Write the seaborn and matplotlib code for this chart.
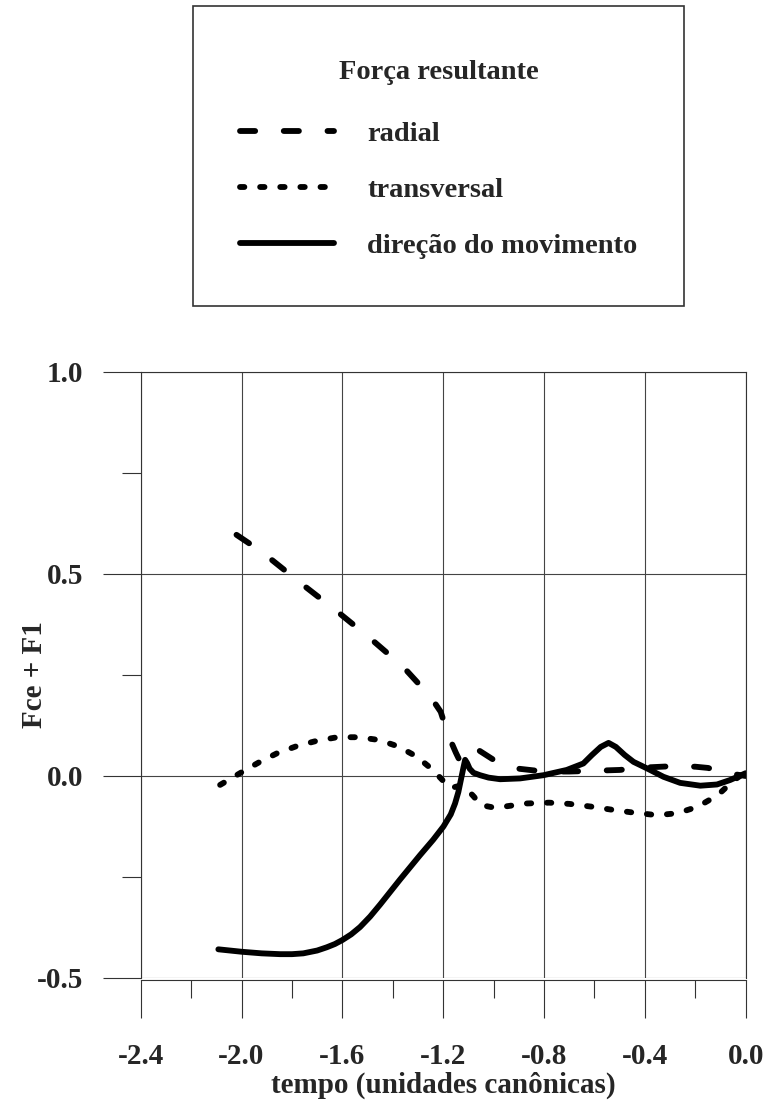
import numpy as np
import pandas as pd
import matplotlib
matplotlib.use("Agg")
import matplotlib.pyplot as plt
from matplotlib.ticker import FixedLocator
from matplotlib.offsetbox import VPacker, DrawingArea
import seaborn as sns

# ---------------- data ----------------
radial_t = [-2.02, -1.97, -1.88, -1.75, -1.62, -1.49, -1.36, -1.25, -1.21, -1.18,
            -1.15, -1.13, -1.11, -1.06, -1.00, -0.90, -0.80, -0.70, -0.60, -0.50,
            -0.40, -0.30, -0.20, -0.15, -0.10, -0.05, 0.00]
radial_f = [0.597, 0.576, 0.535, 0.470, 0.407, 0.341, 0.271, 0.196, 0.159, 0.101,
            0.058, 0.032, 0.040, 0.064, 0.040, 0.018, 0.011, 0.011, 0.013, 0.015,
            0.021, 0.024, 0.023, 0.020, 0.012, 0.005, 0.000]

trans_t = [-2.085, -2.006, -1.933, -1.860, -1.781, -1.702, -1.620, -1.536, -1.453,
           -1.378, -1.305, -1.241, -1.200, -1.170, -1.140, -1.110, -1.080, -1.050,
           -1.000, -0.960, -0.870, -0.780, -0.700, -0.610, -0.525, -0.440, -0.350,
           -0.270, -0.190, -0.110, -0.050, 0.000]
trans_f = [-0.022, 0.007, 0.033, 0.056, 0.074, 0.087, 0.096, 0.096, 0.089,
           0.073, 0.048, 0.015, -0.012, -0.030, -0.025, -0.030, -0.050, -0.072,
           -0.078, -0.076, -0.068, -0.066, -0.069, -0.076, -0.084, -0.091, -0.097,
           -0.092, -0.076, -0.047, -0.012, 0.010]

dir_t = [-2.092, -2.000, -1.920, -1.847, -1.800, -1.755, -1.700, -1.662, -1.630,
         -1.600, -1.565, -1.530, -1.490, -1.450, -1.371, -1.292, -1.240, -1.199,
         -1.170, -1.153, -1.140, -1.130, -1.120, -1.113, -1.105, -1.095, -1.080,
         -1.054, -1.020, -0.974, -0.895, -0.802, -0.710, -0.644, -0.610, -0.575,
         -0.544, -0.515, -0.480, -0.445, -0.392, -0.326, -0.260, -0.180, -0.114,
         -0.062, 0.000]
dir_f = [-0.429, -0.435, -0.439, -0.441, -0.441, -0.439, -0.432, -0.424, -0.416,
         -0.406, -0.392, -0.374, -0.348, -0.318, -0.256, -0.196, -0.158, -0.125,
         -0.095, -0.068, -0.040, -0.010, 0.020, 0.040, 0.032, 0.018, 0.008,
         0.002, -0.004, -0.008, -0.006, 0.002, 0.015, 0.031, 0.052, 0.072,
         0.082, 0.072, 0.052, 0.035, 0.019, -0.002, -0.017, -0.024, -0.021,
         -0.010, 0.007]

series_labels = ["radial", "transversal", "direção do movimento"]
legend_title = "Força resultante"
x_ticks = [-2.4, -2.0, -1.6, -1.2, -0.8, -0.4, 0.0]
x_minor = [-2.2, -1.8, -1.4, -1.0, -0.6, -0.2]
y_ticks = [-0.5, 0.0, 0.5, 1.0]
y_minor = [-0.25, 0.25, 0.75]
x_label = "tempo (unidades canônicas)"
y_label = "Fce + F1"

# ---------------- style ----------------
sns.set_style("white")
plt.rcParams["font.family"] = ["Liberation Serif", "DejaVu Serif"]
plt.rcParams["font.weight"] = "bold"
plt.rcParams["axes.labelweight"] = "bold"
plt.rcParams["font.size"] = 21

fig = plt.figure(figsize=(7.67, 11.04), dpi=100)
ax = fig.add_axes([140.7 / 767, 1 - 978 / 1104, 605 / 767, 606 / 1104])

LW = 4.2
styles = [(0, (2.6, 4.9)), (0, (0.75, 2.7)), "-"]
frames = [
    pd.DataFrame({"t": radial_t, "f": radial_f}),
    pd.DataFrame({"t": trans_t, "f": trans_f}),
    pd.DataFrame({"t": dir_t, "f": dir_f}),
]
for df, ls, lab in zip(frames, styles, series_labels):
    sns.lineplot(data=df, x="t", y="f", ax=ax, color="black", linewidth=LW,
                 linestyle=ls, label=lab, sort=False,
                 dash_capstyle="round", solid_capstyle="round",
                 solid_joinstyle="round", dash_joinstyle="round")

if ax.get_legend() is not None:
    ax.get_legend().remove()

ax.set_xlim(-2.4, 0.0)
ax.set_ylim(-0.5, 1.0)
ax.xaxis.set_major_locator(FixedLocator(x_ticks))
ax.xaxis.set_minor_locator(FixedLocator(x_minor))
ax.yaxis.set_major_locator(FixedLocator(y_ticks))
ax.yaxis.set_minor_locator(FixedLocator(y_minor))
ax.set_xticklabels([f"{v:.1f}" for v in x_ticks])
ax.set_yticklabels([f"{v:.1f}" for v in y_ticks])

ax.grid(True, which="major", color="#444444", linewidth=0.8)
ax.set_axisbelow(True)
for s in ["left", "top", "right", "bottom"]:
    ax.spines[s].set_visible(True)
    ax.spines[s].set_color("#333333")
    ax.spines[s].set_linewidth(0.8)
ax.spines["bottom"].set_position(("outward", 1.7))

ax.tick_params(axis="both", which="both", direction="out", color="#333333", width=0.8,
               labelsize=21)
ax.tick_params(axis="x", which="major", length=27.4, pad=18, bottom=True)
ax.tick_params(axis="x", which="minor", length=13, bottom=True)
ax.tick_params(axis="y", which="major", length=27.4, pad=14, left=True)
ax.tick_params(axis="y", which="minor", length=13.7, left=True)

ax.set_xlabel(x_label, fontsize=21, fontweight="bold")
ax.set_ylabel(y_label, fontsize=21, fontweight="bold")
ax.xaxis.set_label_coords(0.5, -0.154)
ax.yaxis.set_label_coords(-0.154, 0.5)

handles, labels = ax.get_legend_handles_labels()
FS = 20.5
fs_px = FS * 100 / 72
leg = fig.legend(handles, labels, title=legend_title, loc="upper left",
                 bbox_to_anchor=(193 / 767, 1 - 6 / 1104), borderaxespad=0,
                 frameon=True, fancybox=False, shadow=False, framealpha=1,
                 edgecolor="#333333", fontsize=FS, title_fontsize=FS,
                 handlelength=94 / fs_px, handletextpad=33 / fs_px,
                 labelspacing=30.3 / fs_px, borderpad=47 / fs_px)
leg.get_frame().set_linewidth(1.2)
leg.get_title().set_fontweight("bold")
for t in leg.get_texts():
    t.set_fontweight("bold")

# extra space above the title and between title and entries
lb = leg._legend_box
title_box = lb._children[0]
wrapper = VPacker(pad=0, sep=0, align="center",
                  children=[DrawingArea(1, 7 * 0.72), title_box])
wrapper.set_figure(fig)
lb._children[0] = wrapper
lb.sep = 36 * 0.72

fig.savefig("out.png", dpi=100)
